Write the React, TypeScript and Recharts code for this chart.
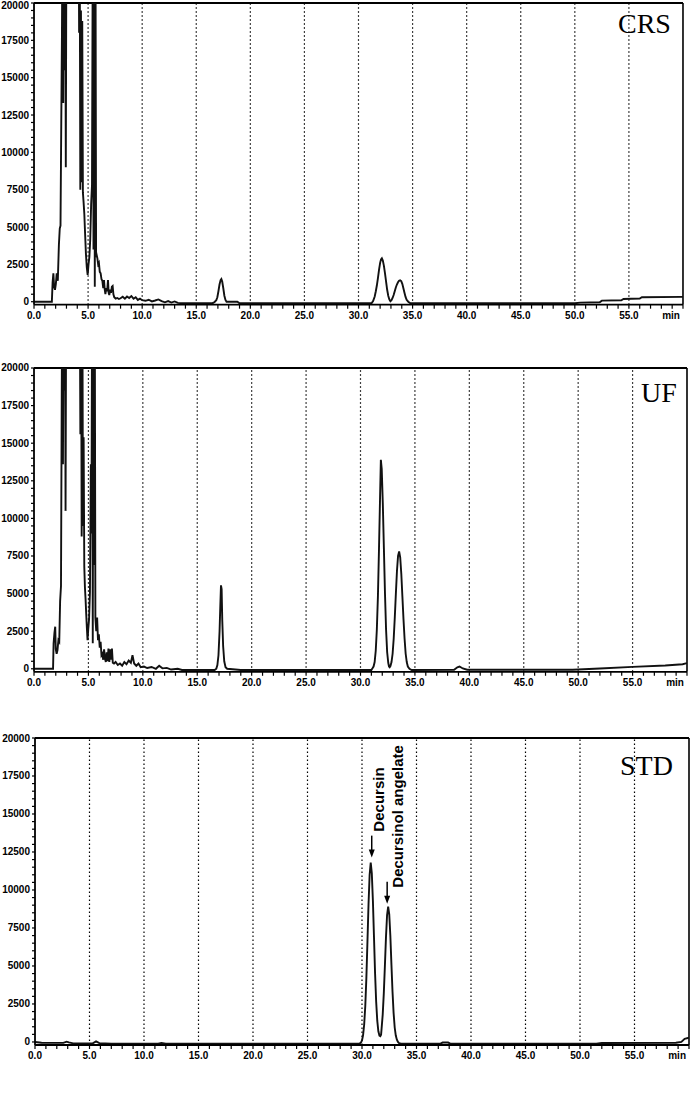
import React from 'react';
import { LineChart, Line, XAxis, YAxis, ReferenceLine, ReferenceDot } from 'recharts';

// ---- axis / tick values ----
const xTicks: number[] = Array.from({ length: 61 }, (_, i) => i); // tick marks every minute
const xLabelStep = 5;
const yTicks: number[] = Array.from({ length: 41 }, (_, i) => i * 500); // tick marks every 500
const yLabelStep = 2500;
const gridTimes: number[] = [5, 10, 15, 20, 25, 30, 35, 40, 45, 50, 55];
const xDomain: [number, number] = [0, 60];
const yDomain: [number, number] = [-200, 20000];

// ---- traces (time in min, signal) ----
const crsTrace: [number, number][] = [
  [0, 0], [1.65, 0], [1.72, 1300], [1.79, 1900], [1.86, 1000], [1.94, 800], [2.02, 1200], [2.1, 1900],
  [2.2, 1400], [2.3, 3800], [2.38, 4900], [2.45, 5100], [2.52, 12000], [2.58, 17600], [2.64, 26000],
  [2.7, 13300], [2.76, 26000], [2.82, 15500], [2.88, 26000], [2.94, 9000], [3.0, 26000], [3.5, 32000],
  [4.12, 26000], [4.17, 18000], [4.22, 26000], [4.28, 7500], [4.34, 19500], [4.4, 8000], [4.46, 18800],
  [4.52, 7300], [4.58, 6700], [4.65, 5900], [4.72, 4600], [4.8, 3200], [4.88, 2300], [4.96, 1800],
  [5.04, 2500], [5.12, 3000], [5.2, 4200], [5.28, 6500], [5.36, 7800], [5.44, 26000], [5.5, 3500],
  [5.56, 26000], [5.62, 1000], [5.68, 26000], [5.74, 3000], [5.8, 3100], [5.86, 2900], [5.93, 2500],
  [6.0, 2600], [6.08, 2000], [6.16, 1900], [6.24, 1500], [6.32, 1400], [6.4, 900], [6.47, 1450],
  [6.54, 800], [6.6, 500], [6.68, 900], [6.76, 700], [6.84, 1450], [6.9, 600], [6.96, 450], [7.04, 800],
  [7.12, 600], [7.2, 1000], [7.27, 1050], [7.34, 500], [7.42, 300], [7.55, 200], [7.7, 250], [7.85, 180],
  [8.0, 230], [8.2, 330], [8.4, 200], [8.6, 350], [8.8, 250], [9.0, 380], [9.2, 200], [9.4, 300],
  [9.6, 120], [9.8, 200], [10.0, 100], [10.3, 60], [10.6, 130], [10.9, 20], [11.2, 80], [11.5, 150],
  [11.8, 40], [12.1, -40], [12.4, 40], [12.7, -60], [13.0, 20], [13.3, -80], [13.8, -100], [16.5, -100],
  [16.7, -20], [16.85, 100], [16.95, 300], [17.05, 700], [17.15, 1150], [17.25, 1450], [17.32, 1520],
  [17.4, 1350], [17.5, 900], [17.6, 400], [17.7, 120], [17.8, 0], [18.8, 0], [19.0, -100], [31.2, -100],
  [31.35, 50], [31.5, 350], [31.6, 700], [31.7, 1100], [31.8, 1600], [31.9, 2150], [32.0, 2600],
  [32.08, 2830], [32.16, 2900], [32.25, 2750], [32.35, 2400], [32.45, 1900], [32.55, 1350], [32.65, 800],
  [32.75, 400], [32.85, 150], [32.95, 30], [33.05, 100], [33.15, 250], [33.25, 450], [33.35, 700],
  [33.45, 950], [33.55, 1150], [33.65, 1300], [33.75, 1400], [33.85, 1430], [33.95, 1380], [34.05, 1200],
  [34.15, 900], [34.25, 600], [34.35, 320], [34.45, 130], [34.6, 0], [34.8, -100], [50.0, -100],
  [50.5, -60], [52.3, -40], [52.5, 70], [54.3, 100], [54.5, 180], [56.0, 210], [56.2, 300], [60, 320],
];

const ufTrace: [number, number][] = [
  [0, 0], [1.75, 0], [1.8, 1700], [1.88, 2400], [1.95, 2800], [2.0, 1300], [2.08, 1000], [2.16, 1250],
  [2.24, 1900], [2.32, 1800], [2.4, 4500], [2.48, 5500], [2.55, 18500], [2.6, 26000], [2.66, 13600],
  [2.72, 26000], [2.78, 18500], [2.84, 26000], [2.9, 10500], [2.96, 26000], [3.5, 32000], [4.2, 26000],
  [4.26, 15600], [4.32, 26000], [4.38, 8800], [4.44, 26000], [4.5, 9500], [4.56, 15400], [4.62, 6800],
  [4.68, 5400], [4.74, 4600], [4.8, 3600], [4.86, 2700], [4.92, 1900], [4.98, 2600], [5.06, 3300],
  [5.14, 5100], [5.22, 13600], [5.28, 9000], [5.34, 26000], [5.4, 1700], [5.46, 26000], [5.52, 6900],
  [5.58, 26000], [5.64, 3400], [5.72, 2500], [5.8, 3400], [5.88, 1900], [5.96, 2300], [6.04, 1400],
  [6.12, 1800], [6.2, 900], [6.28, 1000], [6.36, 600], [6.44, 1300], [6.52, 700], [6.6, 450],
  [6.68, 1100], [6.76, 500], [6.84, 1350], [6.92, 450], [7.0, 1300], [7.08, 600], [7.16, 1350],
  [7.24, 400], [7.35, 350], [7.5, 450], [7.7, 250], [7.9, 350], [8.1, 200], [8.3, 450], [8.5, 300],
  [8.7, 550], [8.9, 400], [9.05, 900], [9.2, 350], [9.4, 200], [9.6, 350], [9.8, 100], [10.1, 150],
  [10.4, 50], [10.8, 120], [11.2, 0], [11.5, 200], [11.8, 30], [12.2, 60], [12.6, -50], [13.2, 0],
  [13.6, -80], [16.6, -80], [16.75, 0], [16.85, 250], [16.95, 900], [17.05, 2500], [17.12, 4200],
  [17.18, 5550], [17.24, 5300], [17.3, 3200], [17.38, 1500], [17.48, 500], [17.6, 100], [17.75, 0],
  [18.5, -50], [19.0, -80], [31.0, -80], [31.1, 30], [31.2, 150], [31.3, 450], [31.4, 1200], [31.5, 2600],
  [31.6, 4800], [31.7, 8000], [31.8, 11500], [31.87, 13900], [31.95, 13300], [32.05, 11000], [32.15, 8000],
  [32.25, 5000], [32.35, 2600], [32.45, 1100], [32.55, 400], [32.62, 150], [32.68, 100], [32.75, 180],
  [32.85, 450], [32.95, 1000], [33.05, 2000], [33.15, 3400], [33.25, 5000], [33.35, 6500], [33.45, 7500],
  [33.55, 7800], [33.65, 7400], [33.75, 6300], [33.85, 4800], [33.95, 3300], [34.05, 2000], [34.15, 1000],
  [34.25, 450], [34.35, 150], [34.5, 0], [34.7, -80], [38.6, -60], [38.9, 100], [39.1, 150], [39.4, 20],
  [39.8, -60], [49.5, -60], [52, 20], [55, 130], [58, 220], [59.6, 300], [60, 380],
];

const stdTrace: [number, number][] = [
  [0, 0], [0.6, -50], [2.6, -60], [2.9, 20], [3.1, -30], [3.5, -90], [5.3, -90], [5.6, 40], [5.9, -80],
  [7, -110], [11.3, -110], [11.6, -60], [12, -110], [29.7, -110], [29.8, -90], [29.9, -40], [30.0, 100],
  [30.1, 450], [30.2, 1150], [30.3, 2350], [30.4, 4200], [30.5, 6600], [30.6, 9100], [30.7, 11000],
  [30.8, 11800], [30.9, 11100], [31.0, 9300], [31.1, 6900], [31.2, 4500], [31.3, 2650], [31.4, 1400],
  [31.5, 700], [31.6, 420], [31.68, 380], [31.75, 480], [31.8, 900], [31.9, 1800], [32.0, 3200],
  [32.1, 5000], [32.2, 6900], [32.3, 8350], [32.4, 8900], [32.5, 8400], [32.6, 7000], [32.7, 5100],
  [32.8, 3300], [32.9, 1900], [33.0, 950], [33.1, 420], [33.2, 150], [33.3, 0], [33.4, -80], [33.6, -110],
  [37.2, -110], [37.4, -40], [37.9, -40], [38.1, -110], [51.5, -110], [52, -70], [58.8, -50], [59.3, 0],
  [59.6, 200], [60, 280],
];

// ---- annotations ----
const decursinPeak = { t: 30.8, v: 11800, label: 'Decursin' };
const angelatePeak = { t: 32.4, v: 8900, label: 'Decursinol angelate' };

const toData = (tr: [number, number][]) => tr.map(([t, v]) => ({ t, v }));
const crsData = toData(crsTrace);
const ufData = toData(ufTrace);
const stdData = toData(stdTrace);

const TICK_FONT = '"Liberation Sans", Arial, sans-serif';

const renderXTick = (props: any) => {
  const { x, y, payload } = props;
  const v = payload.value as number;
  if (v % xLabelStep !== 0) return <g />;
  const common = {
    fontFamily: TICK_FONT,
    fontSize: 10,
    fontWeight: 700,
    fill: '#000',
    dominantBaseline: 'hanging' as const,
  };
  if (v === xDomain[1]) {
    return (
      <text x={x - 3} y={y + 1} textAnchor="end" {...common}>
        min
      </text>
    );
  }
  return (
    <text x={x} y={y + 1} textAnchor="middle" {...common}>
      {v.toFixed(1)}
    </text>
  );
};

const renderYTick = (props: any) => {
  const { x, y, payload } = props;
  const v = payload.value as number;
  if (v % yLabelStep !== 0) return <g />;
  const yy = Math.max(y, 5);
  return (
    <text
      x={x}
      y={yy}
      textAnchor="end"
      dominantBaseline="central"
      fontFamily={TICK_FONT}
      fontSize={10}
      fontWeight={700}
      fill="#000"
    >
      {String(v)}
    </text>
  );
};

type PanelProps = {
  data: { t: number; v: number }[];
  top: number;
  marginTop: number;
  plotHeight: number;
  yAxisWidth: number;
  marginRight: number;
  children?: React.ReactNode;
};

const X_AXIS_H = 30;

function Panel({ data, top, marginTop, plotHeight, yAxisWidth, marginRight, children }: PanelProps) {
  const height = marginTop + plotHeight + X_AXIS_H;
  return (
    <div style={{ position: 'absolute', left: 0, top }}>
      <LineChart
        width={693}
        height={height}
        data={data}
        margin={{ top: marginTop, right: marginRight, left: 0, bottom: 0 }}
      >
        <XAxis
          dataKey="t"
          type="number"
          domain={xDomain}
          ticks={xTicks}
          interval={0}
          tick={renderXTick}
          tickSize={4}
          height={X_AXIS_H}
          axisLine={{ stroke: '#000', strokeWidth: 1.8 }}
          tickLine={{ stroke: '#000', strokeWidth: 1.2 }}
          allowDataOverflow
        />
        <YAxis
          type="number"
          domain={yDomain}
          ticks={yTicks}
          interval={0}
          width={yAxisWidth}
          tickSize={3}
          tick={renderYTick}
          axisLine={{ stroke: '#000', strokeWidth: 1.8 }}
          tickLine={{ stroke: '#000', strokeWidth: 1.2 }}
          allowDataOverflow
        />
        {gridTimes.map((g) => (
          <ReferenceLine key={g} x={g} stroke="#000" strokeWidth={1.2} strokeDasharray="1.5 2.5" />
        ))}
        <ReferenceLine y={yDomain[1]} stroke="#000" strokeWidth={2} />
        <ReferenceLine x={xDomain[1]} stroke="#000" strokeWidth={1.6} />
        <Line
          dataKey="v"
          type="linear"
          stroke="#111"
          strokeWidth={1.9}
          dot={false}
          activeDot={false}
          isAnimationActive={false}
        />
        {children}
      </LineChart>
    </div>
  );
}

const makePeakLabel =
  (label: string, arrowDx: number, arrowTop: number, arrowTip: number, textDx: number, textBottom: number, fontSize: number) =>
  (props: any) => {
    const { cx, cy } = props;
    if (cx == null || cy == null) return <g />;
    const ax = cx + arrowDx;
    const tipY = cy - arrowTip;
    const tx = cx + textDx;
    const ty = cy - textBottom;
    return (
      <g>
        <line x1={ax} y1={cy - arrowTop} x2={ax} y2={tipY - 6} stroke="#000" strokeWidth={1.5} />
        <polygon points={`${ax - 3},${tipY - 8} ${ax + 3},${tipY - 8} ${ax},${tipY}`} fill="#000" />
        <text
          x={tx}
          y={ty}
          transform={`rotate(-90 ${tx} ${ty})`}
          textAnchor="start"
          dominantBaseline="central"
          fontFamily={TICK_FONT}
          fontWeight={700}
          fontSize={fontSize}
          fill="#000"
        >
          {label}
        </text>
      </g>
    );
  };

const titleStyle = { fontFamily: '"Liberation Serif", "Times New Roman", serif', fontSize: 28, fill: '#000' };

export default function App() {
  return (
    <div style={{ position: 'relative', width: 693, height: 1097, background: '#fff', overflow: 'hidden' }}>
      <style>{'body{margin:0;background:#fff}'}</style>
      <Panel data={crsData} top={0} marginTop={3} plotHeight={301.7} yAxisWidth={34} marginRight={10} />
      <Panel data={ufData} top={357.7} marginTop={10} plotHeight={303.8} yAxisWidth={34} marginRight={6} />
      <Panel data={stdData} top={727.7} marginTop={10} plotHeight={307} yAxisWidth={35} marginRight={4}>
        <ReferenceDot
          x={decursinPeak.t}
          y={decursinPeak.v}
          r={1}
          ifOverflow="visible"
          shape={makePeakLabel(decursinPeak.label, 1, 27, 5, 7.5, 31, 15)}
        />
        <ReferenceDot
          x={angelatePeak.t}
          y={angelatePeak.v}
          r={1}
          ifOverflow="visible"
          shape={makePeakLabel(angelatePeak.label, -1, 25, 3, 9.5, 19, 15)}
        />
      </Panel>
      <svg
        width={693}
        height={1097}
        style={{ position: 'absolute', left: 0, top: 0, pointerEvents: 'none' }}
      >
        <text x={618} y={33} {...titleStyle}>CRS</text>
        <text x={641} y={401.5} {...titleStyle}>UF</text>
        <text x={620} y={775} {...titleStyle}>STD</text>
      </svg>
    </div>
  );
}
